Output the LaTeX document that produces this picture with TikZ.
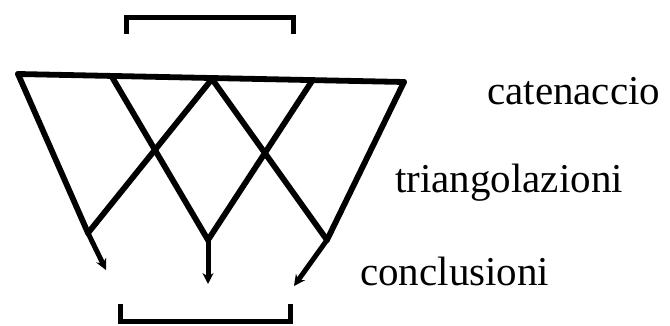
\documentclass[tikz,border=0pt]{standalone}
\usepackage{fontspec}
\setmainfont{Liberation Serif}
\usetikzlibrary{arrows.meta}
\begin{document}
\begin{tikzpicture}[x=1pt,y=-1pt,
  link/.style={line width=5.8pt, line cap=round, line join=round},
  arr/.style={line width=5pt, -{Stealth[length=11pt,width=11pt]}},
  bracket/.style={line width=5pt, line join=miter},
  lbl/.style={inner sep=0pt, anchor=base west, font=\fontsize{41}{41}\selectfont}]
\useasboundingbox (0,0) rectangle (670,326);
% top bar points
\coordinate (A) at (18,74);
\coordinate (B) at (112,77);
\coordinate (C) at (212,79);
\coordinate (D) at (312,81);
\coordinate (E) at (404,82);
% bottom meeting points
\coordinate (L) at (88,233);
\coordinate (M) at (208,240);
\coordinate (R) at (327,240);
% arrow ends
\coordinate (Le) at (106,270);
\coordinate (Me) at (208,284);
\coordinate (Re) at (294,286);
\draw[link] (A) -- (E);
\draw[link] (A) -- (L);
\draw[link] (C) -- (L);
\draw[link] (B) -- (M);
\draw[link] (D) -- (M);
\draw[link] (C) -- (R);
\draw[link] (E) -- (R);
\draw[arr] (L) -- (Le);
\draw[arr] (M) -- (Me);
\draw[arr] (R) -- (Re);
% brackets
\draw[bracket] (126,34) -- (126,18) -- (293,18) -- (293,34);
\draw[bracket] (120,304) -- (120,321) -- (290,321) -- (290,304);
% labels
\node[lbl] (cat) at (487,105) {catenaccio};
\node[lbl] (tri) at (395,193) {triangolazioni};
\node[lbl] (con) at (360,285) {conclusioni};
\end{tikzpicture}
\end{document}
